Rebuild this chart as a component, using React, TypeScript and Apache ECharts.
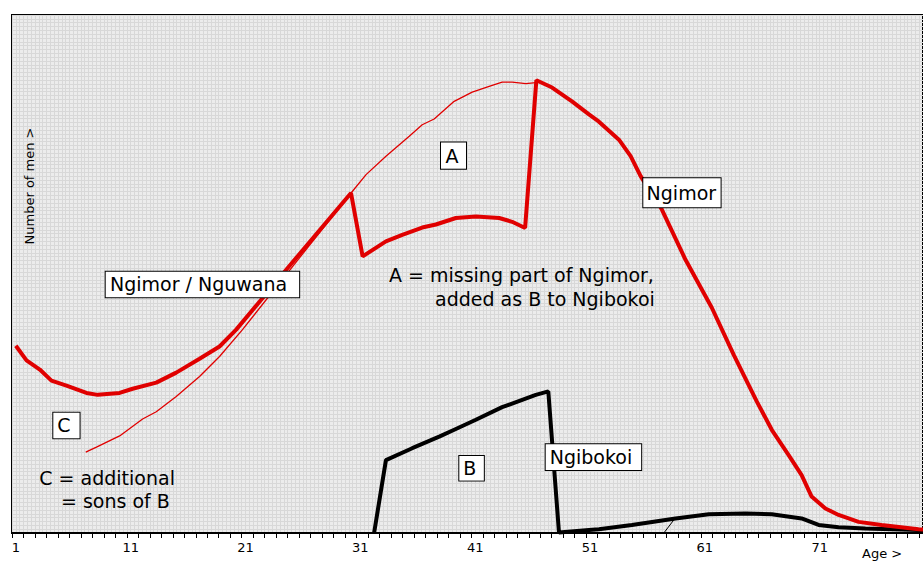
import React, { useEffect, useRef } from 'react';
import * as echarts from 'echarts';

// Thick red: Ngimor (incl. Ngimor / Nguwana part)
const ngimorAges = [1, 1.93, 3.09, 4.1, 5.41, 7.15, 8.13, 10.04, 11.17, 13.23, 14.97, 17.0, 18.74, 20.19, 24.8, 30.19, 31.2, 33.23, 34.65, 36.39, 37.58, 39.32, 41.06, 43.09, 44.22, 45.35, 46.33, 47.7, 49.43, 50.91, 51.78, 53.52, 54.54, 55.41, 57.26, 59.32, 61.61, 63.52, 65.52, 66.83, 68.3, 69.43, 70.3, 71.5, 72.65, 74.39, 76.39, 79.61, 80];
const ngimorValues = [48.8, 45.0, 42.6, 39.7, 38.4, 36.5, 36.0, 36.5, 37.6, 39.2, 41.8, 45.4, 48.6, 53.0, 69.5, 88.6, 72.1, 76.0, 77.7, 79.6, 80.4, 82.1, 82.5, 82.1, 81.1, 79.5, 118.0, 116.1, 112.5, 109.1, 107.2, 102.5, 98.2, 93.0, 84.3, 71.2, 58.7, 46.4, 34.3, 26.9, 20.3, 15.1, 9.5, 6.4, 4.7, 2.9, 2.1, 1.0, 0.9];

// Thin red: expected curve (C and A outline)
const expectedAges = [7.09, 8.02, 10.04, 12.04, 13.23, 14.97, 17.0, 18.74, 20.74, 25.7, 30.3, 31.5, 33.23, 35.26, 36.39, 37.43, 39.17, 40.74, 42.22, 43.35, 44.22, 45.41, 46.3];
const expectedValues = [21.1, 22.4, 25.3, 29.7, 31.6, 35.6, 40.8, 46.0, 53.0, 71.7, 89.0, 93.4, 98.2, 103.4, 106.4, 107.9, 112.5, 114.9, 116.4, 117.5, 117.5, 117.1, 117.4];

// Black: Ngibokoi (incl. B)
const ngibokoiAges = [32.2, 33.23, 35.52, 37.87, 39.32, 41.06, 43.35, 46.28, 47.37, 48.3, 50.91, 51.78, 54.65, 58.45, 61.35, 64.54, 66.83, 69.43, 70.91, 72.65, 74.97, 79.61, 80];
const ngibokoiValues = [0, 19.0, 22.1, 25.1, 27.1, 29.5, 32.8, 36.0, 36.9, 0.1, 0.8, 1.0, 2.1, 3.8, 4.9, 5.1, 4.9, 3.8, 2.1, 1.5, 1.2, 0.8, 0.8];

// Small black leader line
const leaderAges = [57.43, 58.3];
const leaderValues = [0, 3.4];

const tickLabels = [1, 11, 21, 31, 41, 51, 61, 71];

const FONT = '"DejaVu Sans", Verdana, sans-serif';

export default function App() {
  const ref = useRef<HTMLDivElement>(null);
  useEffect(() => {
    const chart = echarts.init(ref.current!, null, { renderer: 'svg' });
    const pairs = (xs: number[], ys: number[]) => xs.map((x, i) => [x, ys[i]]);
    const box = (text: string, x: number, y: number, pad: number[]) => ({
      type: 'text',
      x,
      y,
      z: 100,
      style: {
        text,
        font: `19px ${FONT}`,
        fill: '#000',
        align: 'left',
        verticalAlign: 'top',
        lineHeight: 19,
        backgroundColor: '#fff',
        borderColor: '#000',
        borderWidth: 1,
        padding: pad,
        boxShadowColor: 'rgba(0,0,0,0.35)',
        boxShadowOffsetX: 1,
        boxShadowOffsetY: 1,
      },
    });
    const txt = (text: string, x: number, y: number, size = 19) => ({
      type: 'text',
      x,
      y,
      z: 100,
      style: { text, font: `${size}px ${FONT}`, fill: '#000', align: 'left', verticalAlign: 'middle' },
    });
    const grid = '#d8d8d8';
    chart.setOption({
      animation: false,
      grid: {
        left: 12,
        right: -1.3,
        top: 15,
        bottom: 29,
        show: true,
        backgroundColor: '#ececec',
        borderColor: '#000',
        borderWidth: 2,
      },
      xAxis: [
        {
          type: 'value',
          position: 'top',
          min: 2 / 3,
          max: 80,
          interval: 1 / 3,
          axisLine: { show: false },
          axisTick: { show: false },
          axisLabel: { show: false },
          splitLine: { show: true, lineStyle: { color: grid, width: 1 } },
        },
        {
          type: 'value',
          position: 'bottom',
          min: 2 / 3,
          max: 80,
          interval: 1,
          axisLine: { show: true, lineStyle: { color: '#000', width: 2 } },
          axisTick: { show: true, length: 5, lineStyle: { color: '#000', width: 1 } },
          axisLabel: {
            show: true,
            customValues: tickLabels,
            color: '#000',
            fontSize: 13,
            fontFamily: FONT,
            margin: 8,
            formatter: (v: number) => String(Math.round(v)),
          },
          splitLine: { show: false },
        },
      ],
      yAxis: {
        type: 'value',
        min: 0,
        max: 135,
        interval: 1,
        axisLine: { show: false },
        axisTick: { show: false },
        axisLabel: { show: false },
        splitLine: { show: true, lineStyle: { color: grid, width: 1 } },
      },
      series: [
        {
          type: 'line',
          xAxisIndex: 0,
          data: pairs(ngibokoiAges, ngibokoiValues),
          showSymbol: false,
          lineStyle: { color: '#000', width: 4 },
          z: 3,
        },
        {
          type: 'line',
          xAxisIndex: 0,
          data: pairs(leaderAges, leaderValues),
          showSymbol: false,
          lineStyle: { color: '#000', width: 1 },
          z: 3,
        },
        {
          type: 'line',
          xAxisIndex: 0,
          data: pairs(expectedAges, expectedValues),
          showSymbol: false,
          lineStyle: { color: '#e00000', width: 1.3 },
          z: 4,
        },
        {
          type: 'line',
          xAxisIndex: 0,
          data: pairs(ngimorAges, ngimorValues),
          showSymbol: false,
          lineStyle: { color: '#e00000', width: 4 },
          z: 5,
        },
      ],
      graphic: [
        box('A', 441, 142.5, [3.6, 7.5, 3.6, 4.5]),
        box('Ngimor', 643.3, 178.3, [5, 4.5, 5, 3.3]),
        box('Ngimor / Nguwana', 105.7, 271.7, [3.3, 12, 3.3, 4.3]),
        box('C', 53.3, 412.7, [3.3, 9, 3.3, 4]),
        box('B', 459.3, 456, [2.8, 7.5, 2.8, 4]),
        box('Ngibokoi', 545.7, 444.3, [3.3, 9, 3.3, 4]),
        txt('A = missing part of Ngimor,', 389, 275),
        txt('added as B to Ngibokoi', 435, 298.5),
        txt('C = additional', 39.3, 477.5),
        txt('= sons of B', 61, 501),
        {
          type: 'text',
          x: 29.5,
          y: 186,
          rotation: Math.PI / 2,
          z: 100,
          style: { text: 'Number of men >', font: `13px ${FONT}`, fill: '#000', align: 'center', verticalAlign: 'middle' },
        },
        {
          type: 'text',
          x: 862,
          y: 547,
          z: 100,
          style: { text: 'Age >', font: `13px ${FONT}`, fill: '#000', align: 'left', verticalAlign: 'top' },
        },
      ],
    });
    return () => chart.dispose();
  }, []);
  return (
    <div
      ref={ref}
      style={{ position: 'absolute', left: 0, top: 0, width: 923, height: 562, background: '#fff' }}
    />
  );
}
